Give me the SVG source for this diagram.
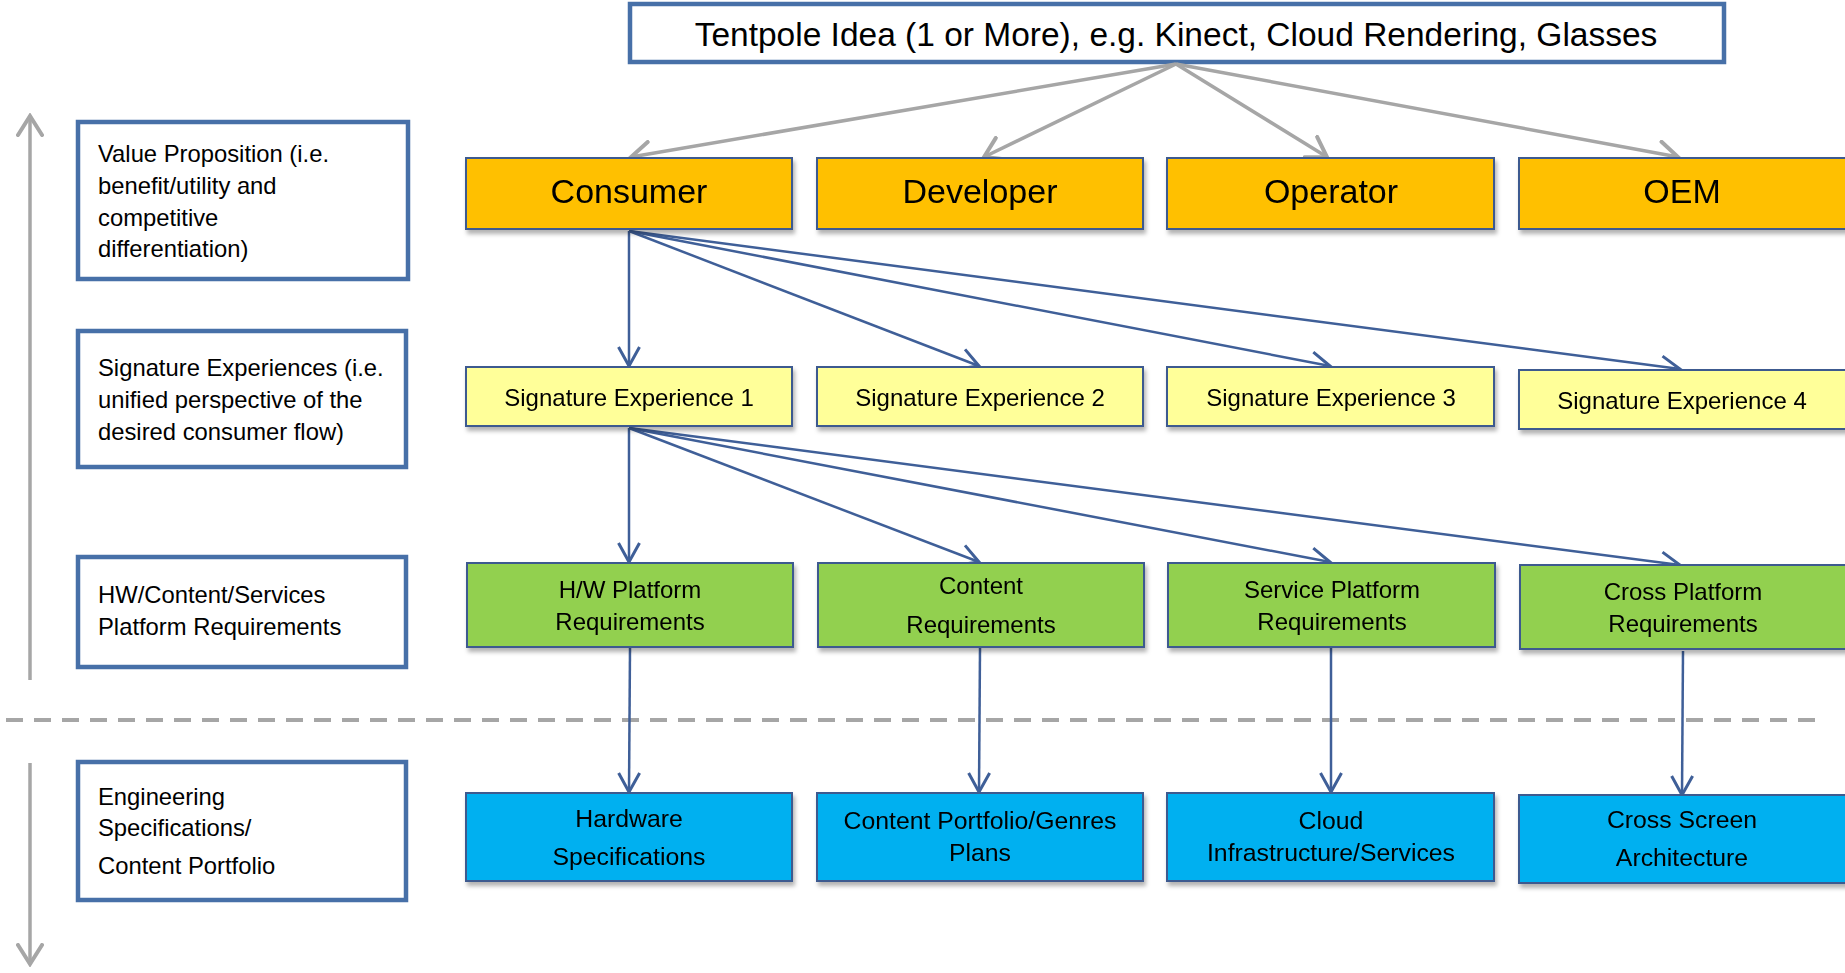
<svg xmlns="http://www.w3.org/2000/svg" width="1845" height="973" viewBox="0 0 1845 973">
<style>
text{font-family:"Liberation Sans",Arial,sans-serif;fill:#000}
.lbl{fill:#fff;stroke:#4770A8;stroke-width:4.5}
.lt{font-size:23.8px}
.nd{stroke:#3D5A8F;stroke-width:2}
.o{fill:#FFC000}
.y{fill:#FFFF99}
.g{fill:#92D050}
.b{fill:#00B0F0}
.ct{font-size:24px;text-anchor:middle}
.ct2{font-size:24.8px;text-anchor:middle}
.big{font-size:34px;text-anchor:middle}
.gc{stroke:#A6A6A6;stroke-width:3.5;fill:none;marker-end:url(#ag)}
.bc{stroke:#3F5F98;stroke-width:2.5;fill:none;marker-end:url(#ab)}
</style>
<defs>
<filter id="sh" x="-5%" y="-10%" width="115%" height="130%">
<feDropShadow dx="2" dy="4" stdDeviation="2" flood-color="#000" flood-opacity="0.3"/>
</filter>
<marker id="ag" markerUnits="userSpaceOnUse" viewBox="0 0 24 28" refX="21" refY="14" markerWidth="24" markerHeight="28" orient="auto">
<path d="M2,2 L21,14 L2,26" fill="none" stroke="#A6A6A6" stroke-width="4" stroke-linecap="round"/>
</marker>
<marker id="ab" markerUnits="userSpaceOnUse" viewBox="0 0 24 26" refX="21" refY="13" markerWidth="24" markerHeight="26" orient="auto">
<path d="M2,2.5 L21,13 L2,23.5" fill="none" stroke="#3F5F98" stroke-width="3"/>
</marker>
</defs>
<rect width="1845" height="973" fill="#fff"/>

<g id="axis">
<line x1="30" y1="680" x2="30" y2="116" class="gc" stroke-width="3"/>
<line x1="30" y1="763" x2="30" y2="964" class="gc" stroke-width="3"/>
<line x1="6" y1="720" x2="1818" y2="720" stroke="#A6A6A6" stroke-width="4" stroke-dasharray="17 11"/>
</g>

<g id="tentpole">
<rect x="630" y="4" width="1094" height="58" class="lbl"/>
<text x="1176" y="46" font-size="33.5" text-anchor="middle">Tentpole Idea (1 or More), e.g. Kinect, Cloud Rendering, Glasses</text>
</g>

<g id="label-value">
<rect x="78" y="122" width="330" height="157" class="lbl"/>
<text class="lt" x="98" y="162">Value Proposition (i.e.</text>
<text class="lt" x="98" y="194">benefit/utility and</text>
<text class="lt" x="98" y="226">competitive</text>
<text class="lt" x="98" y="257">differentiation)</text>
</g>
<g id="label-signature">
<rect x="78" y="331" width="328" height="136" class="lbl"/>
<text class="lt" x="98" y="376">Signature Experiences (i.e.</text>
<text class="lt" x="98" y="408">unified perspective of the</text>
<text class="lt" x="98" y="440">desired consumer flow)</text>
</g>
<g id="label-platform">
<rect x="78" y="557" width="328" height="110" class="lbl"/>
<text class="lt" x="98" y="603">HW/Content/Services</text>
<text class="lt" x="98" y="635">Platform Requirements</text>
</g>
<g id="label-engineering">
<rect x="78" y="762" width="328" height="138" class="lbl"/>
<text class="lt" x="98" y="805">Engineering</text>
<text class="lt" x="98" y="836">Specifications/</text>
<text class="lt" x="98" y="874">Content Portfolio</text>
</g>

<g id="connectors">
<line x1="1176" y1="64" x2="631" y2="157" class="gc"/>
<line x1="1176" y1="64" x2="984" y2="157" class="gc"/>
<line x1="1176" y1="64" x2="1327" y2="157" class="gc"/>
<line x1="1176" y1="64" x2="1678" y2="157" class="gc"/>
<line x1="629" y1="231" x2="629" y2="366" class="bc"/>
<line x1="629" y1="231" x2="979" y2="366" class="bc"/>
<line x1="629" y1="231" x2="1330" y2="366" class="bc"/>
<line x1="629" y1="231" x2="1680" y2="369" class="bc"/>
<line x1="629" y1="428" x2="629" y2="562" class="bc"/>
<line x1="629" y1="428" x2="979" y2="562" class="bc"/>
<line x1="629" y1="428" x2="1330" y2="562" class="bc"/>
<line x1="629" y1="428" x2="1680" y2="565" class="bc"/>
<line x1="630" y1="648" x2="629" y2="792" class="bc"/>
<line x1="980" y1="648" x2="979" y2="792" class="bc"/>
<line x1="1331" y1="648" x2="1331" y2="792" class="bc"/>
<line x1="1683" y1="651" x2="1682" y2="795" class="bc"/>
</g>

<g id="consumer" filter="url(#sh)">
<rect x="466" y="158" width="326" height="71" class="nd o"/>
<text class="big" x="629" y="203">Consumer</text>
</g>
<g id="developer" filter="url(#sh)">
<rect x="817" y="158" width="326" height="71" class="nd o"/>
<text class="big" x="980" y="203">Developer</text>
</g>
<g id="operator" filter="url(#sh)">
<rect x="1167" y="158" width="327" height="71" class="nd o"/>
<text class="big" x="1331" y="203">Operator</text>
</g>
<g id="oem" filter="url(#sh)">
<rect x="1519" y="158" width="330" height="71" class="nd o"/>
<text class="big" x="1682" y="203">OEM</text>
</g>

<g id="sig1" filter="url(#sh)">
<rect x="466" y="367" width="326" height="59" class="nd y"/>
<text class="ct" x="629" y="406">Signature Experience 1</text>
</g>
<g id="sig2" filter="url(#sh)">
<rect x="817" y="367" width="326" height="59" class="nd y"/>
<text class="ct" x="980" y="406">Signature Experience 2</text>
</g>
<g id="sig3" filter="url(#sh)">
<rect x="1167" y="367" width="327" height="59" class="nd y"/>
<text class="ct" x="1331" y="406">Signature Experience 3</text>
</g>
<g id="sig4" filter="url(#sh)">
<rect x="1519" y="370" width="330" height="59" class="nd y"/>
<text class="ct" x="1682" y="409">Signature Experience 4</text>
</g>

<g id="hw-req" filter="url(#sh)">
<rect x="467" y="563" width="326" height="84" class="nd g"/>
<text class="ct" x="630" y="598">H/W Platform</text>
<text class="ct" x="630" y="630">Requirements</text>
</g>
<g id="content-req" filter="url(#sh)">
<rect x="818" y="563" width="326" height="84" class="nd g"/>
<text class="ct" x="981" y="594">Content</text>
<text class="ct" x="981" y="633">Requirements</text>
</g>
<g id="service-req" filter="url(#sh)">
<rect x="1168" y="563" width="327" height="84" class="nd g"/>
<text class="ct" x="1332" y="598">Service Platform</text>
<text class="ct" x="1332" y="630">Requirements</text>
</g>
<g id="cross-req" filter="url(#sh)">
<rect x="1520" y="565" width="330" height="84" class="nd g"/>
<text class="ct" x="1683" y="600">Cross Platform</text>
<text class="ct" x="1683" y="632">Requirements</text>
</g>

<g id="hw-spec" filter="url(#sh)">
<rect x="466" y="793" width="326" height="88" class="nd b"/>
<text class="ct2" x="629" y="827">Hardware</text>
<text class="ct2" x="629" y="865">Specifications</text>
</g>
<g id="content-portfolio" filter="url(#sh)">
<rect x="817" y="793" width="326" height="88" class="nd b"/>
<text class="ct2" x="980" y="829">Content Portfolio/Genres</text>
<text class="ct2" x="980" y="861">Plans</text>
</g>
<g id="cloud" filter="url(#sh)">
<rect x="1167" y="793" width="327" height="88" class="nd b"/>
<text class="ct2" x="1331" y="829">Cloud</text>
<text class="ct2" x="1331" y="861">Infrastructure/Services</text>
</g>
<g id="cross-screen" filter="url(#sh)">
<rect x="1519" y="795" width="330" height="88" class="nd b"/>
<text class="ct2" x="1682" y="828">Cross Screen</text>
<text class="ct2" x="1682" y="866">Architecture</text>
</g>
</svg>
